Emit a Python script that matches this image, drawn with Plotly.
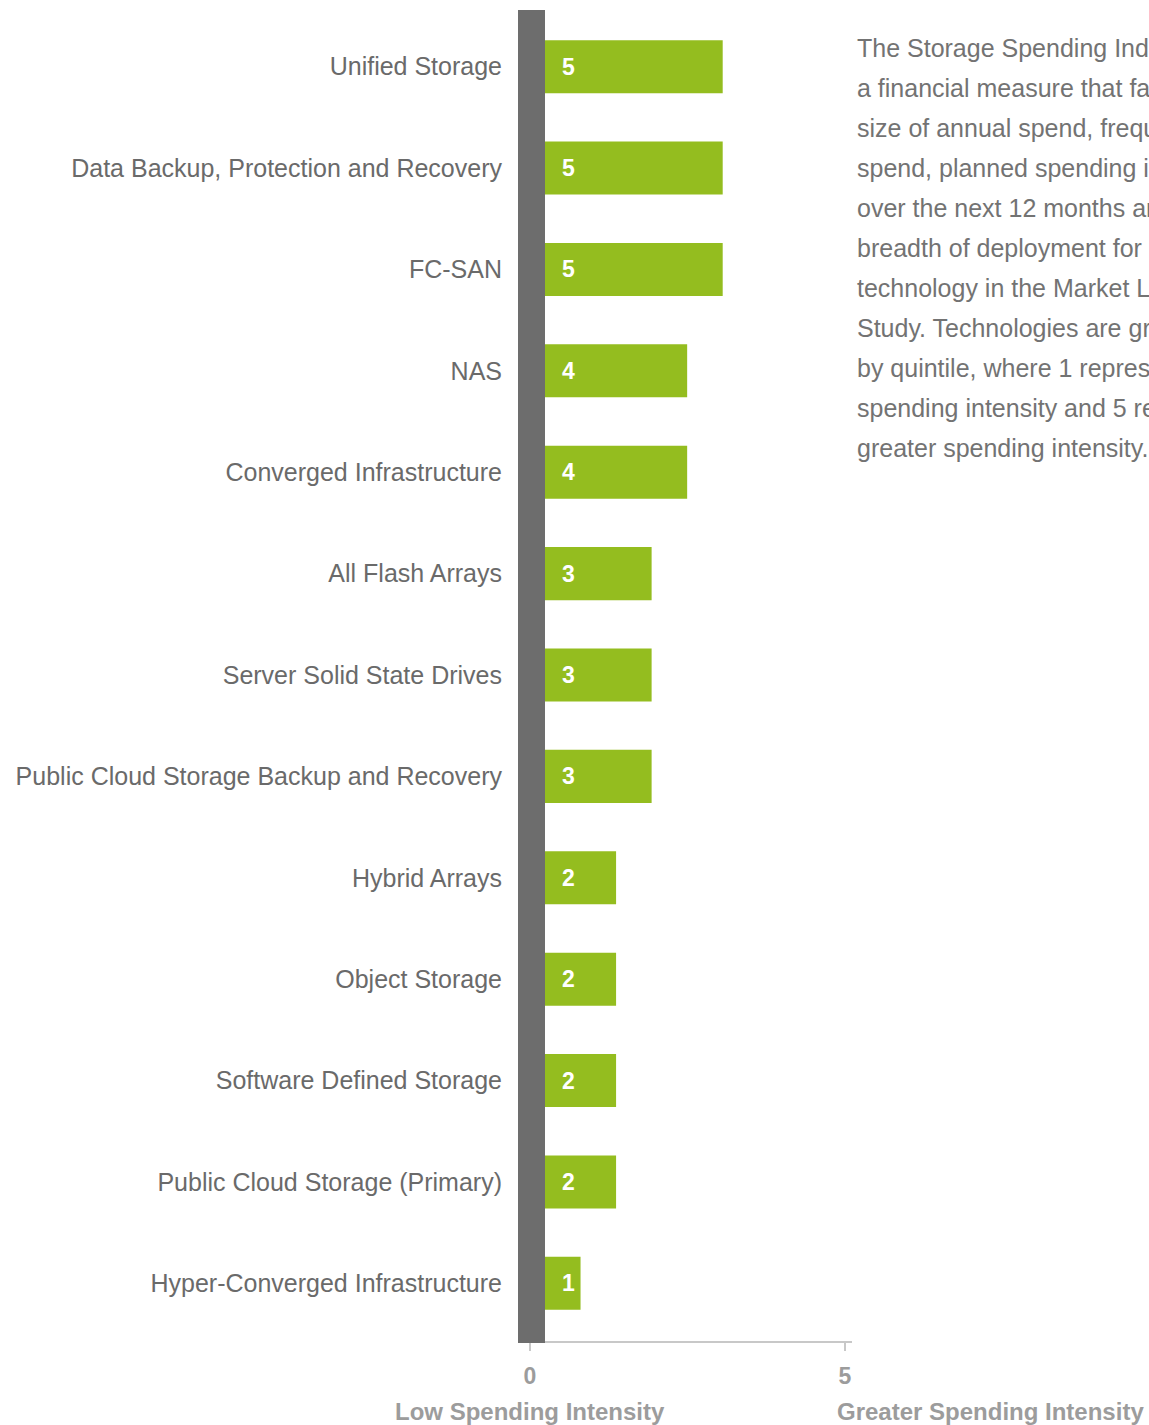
import plotly.graph_objects as go

categories = [
    "Unified Storage",
    "Data Backup, Protection and Recovery",
    "FC-SAN",
    "NAS",
    "Converged Infrastructure",
    "All Flash Arrays",
    "Server Solid State Drives",
    "Public Cloud Storage Backup and Recovery",
    "Hybrid Arrays",
    "Object Storage",
    "Software Defined Storage",
    "Public Cloud Storage (Primary)",
    "Hyper-Converged Infrastructure",
]
values = [5, 5, 5, 4, 4, 3, 3, 3, 2, 2, 2, 2, 1]
axis_ticks = [0, 5]
axis_labels = ["Low Spending Intensity", "Greater Spending Intensity"]
note_lines = [
    "The Storage Spending Index is",
    "a financial measure that factors",
    "size of annual spend, frequency of",
    "spend, planned spending increases",
    "over the next 12 months and",
    "breadth of deployment for each",
    "technology in the Market Landscape",
    "Study. Technologies are grouped",
    "by quintile, where 1 represents low",
    "spending intensity and 5 represents",
    "greater spending intensity.",
]

W, H = 1149, 1425
FONT = "Liberation Sans, Arial, sans-serif"
GREEN = "#94bd1f"
BAND = "#6d6d6d"
LABEL = "#6a6a6a"
AXIS = "#9c9c9c"

def px(x):
    return x / W

def py(y):
    return (H - y) / H

fig = go.Figure()
fig.add_trace(go.Bar(
    x=values, y=categories, orientation="h",
    marker=dict(color=GREEN, line=dict(width=0)),
    hoverinfo="x+y", showlegend=False,
))
# invisible helper trace so the bottom scale axis is drawn
fig.add_trace(go.Scatter(
    x=axis_ticks, y=[0] * len(axis_ticks), xaxis="x2", yaxis="y2",
    mode="markers", marker=dict(opacity=0), hoverinfo="skip", showlegend=False,
))

unit = 35.54
x_left = 545
x_dom = [px(x_left), 1.0]
x_range = [0, (W - x_left) / unit]

annotations = []
for c, v in zip(categories, values):
    annotations.append(dict(
        x=0, y=c, xref="x", yref="y", text=f"<b>{v}</b>", showarrow=False,
        xanchor="left", yanchor="middle", xshift=15,
        font=dict(family=FONT, size=23, color="white"),
    ))

for i, line in enumerate(note_lines):
    annotations.append(dict(
        x=px(855), y=py(48 + 40 * i), xref="paper", yref="paper", text=line,
        showarrow=False, xanchor="left", yanchor="middle",
        font=dict(family=FONT, size=25, color="#737373"),
    ))

annotations.append(dict(
    x=px(530), y=py(1411), xref="paper", yref="paper", text=f"<b>{axis_labels[0]}</b>",
    showarrow=False, xanchor="center", yanchor="middle",
    font=dict(family=FONT, size=24, color=AXIS),
))
annotations.append(dict(
    x=px(990), y=py(1411), xref="paper", yref="paper", text=f"<b>{axis_labels[1]}</b>",
    showarrow=False, xanchor="center", yanchor="middle",
    font=dict(family=FONT, size=24, color=AXIS),
))

fig.update_layout(
    width=W, height=H,
    margin=dict(l=0, r=0, t=0, b=0),
    paper_bgcolor="white", plot_bgcolor="rgba(0,0,0,0)",
    bargap=0.477,
    xaxis=dict(domain=x_dom, range=x_range, visible=False, fixedrange=True, anchor="y"),
    xaxis2=dict(
        domain=[px(518), px(852)], anchor="y2",
        range=[-12 / 63, 5 + 7 / 63], tickvals=axis_ticks,
        ticktext=[str(t) for t in axis_ticks],
        ticks="outside", ticklen=8, tickwidth=2, tickcolor="#c8c8c8",
        showline=True, linecolor="#c8c8c8", linewidth=2,
        showgrid=False, zeroline=False, ticklabelstandoff=5,
        tickfont=dict(family=FONT, size=23, color=AXIS, weight="bold"),
    ),
    yaxis2=dict(
        domain=[py(1341), py(1341) + 0.01], anchor="x2",
        visible=False, range=[0, 1],
    ),
    yaxis=dict(
        domain=[py(1334), py(16)], anchor="x",
        categoryorder="array", categoryarray=categories,
        range=[len(categories) - 0.5, -0.5],
        showgrid=False, zeroline=False, showline=False,
        ticks="outside", ticklen=37, tickcolor="rgba(0,0,0,0)",
        tickfont=dict(family=FONT, size=25, color=LABEL),
        automargin=False,
    ),
    shapes=[dict(
        type="rect", xref="paper", yref="paper",
        x0=px(518), x1=px(545), y0=py(1343), y1=py(10),
        fillcolor=BAND, line=dict(width=0), layer="above",
    )],
    annotations=annotations,
)

fig.write_html(
    "out.html",
    config={"displayModeBar": False},
    post_script="document.body.style.margin='0';document.body.style.overflow='hidden';",
)
